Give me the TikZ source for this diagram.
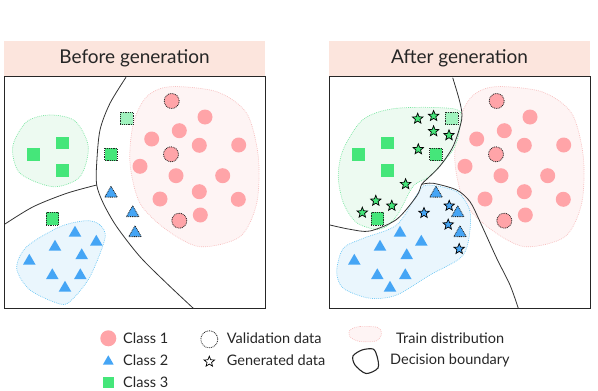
\documentclass[tikz,border=0pt]{standalone}
\usepackage{fontspec}
\setmainfont{Lato}
\usetikzlibrary{shapes.geometric}

\definecolor{titlebg}{RGB}{252,229,221}
\definecolor{classred}{RGB}{255,164,168}
\definecolor{classgreen}{RGB}{69,230,122}
\definecolor{lightgreen}{RGB}{160,242,190}
\definecolor{classblue}{RGB}{69,165,245}
\definecolor{greenfill}{RGB}{237,250,241}
\definecolor{greenline}{RGB}{120,230,160}
\definecolor{bluefill}{RGB}{234,246,253}
\definecolor{blueline}{RGB}{110,200,245}
\definecolor{redfill}{RGB}{254,244,244}
\definecolor{redline}{RGB}{248,190,190}

\begin{document}
\begin{tikzpicture}[x=1pt,y=-1pt,
  pt/.style={inner sep=0pt,outer sep=0pt},
  cls1/.style={pt,circle,fill=classred,minimum size=15pt},
  cls2/.style={pt,regular polygon,regular polygon sides=3,fill=classblue,minimum size=14.5pt},
  cls3/.style={pt,rectangle,fill=classgreen,minimum size=12.5pt},
  val/.style={draw=black!85,line width=0.8pt,dash pattern=on 0.9pt off 0.9pt},
  gen/.style={pt,star,star points=5,star point ratio=2.3,minimum size=11pt,draw=black,line width=0.7pt},
  blob/.style={line width=0.7pt,dash pattern=on 0.8pt off 1.1pt},
  bound/.style={draw=black!80,line width=0.8pt},
  lab/.style={anchor=west,font=\fontsize{14.5}{16}\selectfont,text=black!85,inner sep=0pt}]
  \useasboundingbox (0,0) rectangle (598,391);
  % title bars and frames of both panels
  \foreach \px/\ttl/\nm in {0/Before generation/bef,325/After generation/aft}{
    \begin{scope}[xshift=\px pt]
      \fill[titlebg] (4,41) rectangle (265,76);
      \node[font=\fontsize{19}{22}\selectfont,text=black!85] (ttl\nm) at (134.5,58.5) {\ttl};
      \draw[black!85,line width=1pt] (4,76) rectangle (265,308.5);
      % train distribution of class 1 is the same in both panels
      \filldraw[fill=redfill,draw=redline,blob] plot[smooth cycle] coordinates
        {(170,86.7) (216.7,91.7) (246.7,113.3) (258.3,156.7) (256.7,203.3) (240,236.7)
         (200,246.7) (166.7,230) (140,203.3) (130,163.3) (133.3,123.3) (146.7,96.7)};
    \end{scope}
  }
  % before: train distributions of class 2 and 3
  \filldraw[fill=greenfill,draw=greenline,blob] plot[smooth cycle] coordinates
    {(50,115) (75,121) (88.3,146.7) (80,176.7) (53.3,186.7) (20,173.3) (12.7,146.7) (26.7,121.7)};
  \filldraw[fill=bluefill,draw=blueline,blob] plot[smooth cycle] coordinates
    {(86.7,220.7) (100,225) (105,238.3) (90,276.7) (71.7,300) (60,304) (30,290)
     (16.7,268.3) (26.7,246.7) (60,226.7)};
  % after: the generated data widen both
  \begin{scope}[xshift=325pt]
    \filldraw[fill=greenfill,draw=greenline,blob] plot[smooth cycle] coordinates
      {(38.3,119.3) (71.7,108.3) (131,109.3) (135,126) (128.3,149.3) (105,176) (88.3,186)
       (71.7,216) (55,229.3) (31.7,222.7) (18.3,202.7) (13.3,176) (18.3,149.3)};
    \filldraw[fill=bluefill,draw=blueline,blob] plot[smooth cycle] coordinates
      {(101.7,185) (131.7,191.7) (145,211.7) (143.3,241.7) (135,258.3) (105,275) (71.7,295)
       (45,298.3) (18.3,288.3) (11.7,271.7) (18.3,248.3) (38.3,238.3) (71.7,225) (91.7,195)};
  \end{scope}
  % decision boundaries
  \draw[bound] plot[smooth] coordinates {(126,77.3) (110,103.3) (100,130) (96.7,163.3) (96.7,185)
    (103.3,203.3) (116.7,226.7) (140,256.7) (166.7,283.3) (193.3,308.3)};
  \draw[bound] plot[smooth] coordinates {(96.7,185) (66.7,193.3) (33.3,206.7) (5,224)};
  \begin{scope}[xshift=325pt]
    \draw[bound] plot[smooth] coordinates {(127.7,77.7) (135,102.7) (136.7,119.3) (128.3,146)
      (115,166) (101.7,179.3) (96.7,184.3) (91.7,196) (71.7,219.3) (45,231) (25,229.3) (5,225)};
    \draw[bound] plot[smooth] coordinates {(96.7,184.3) (108.3,183.3) (131.7,190) (145,201.7)
      (155,221.7) (171.7,258.3) (185,285) (193.3,308.3)};
  \end{scope}
  % data points, identical in both panels
  \foreach \px/\nm in {0/bef,325/aft}{
    \begin{scope}[xshift=\px pt]
      \foreach \x/\y [count=\i] in {205/117,179.3/130.7,151.7/139,199.3/145.3,238.7/145,140/166.3,
          176/175.7,222.7/175.7,199.3/191.7,160/199,238.3/199.3,200.3/215}
        \node[cls1] (r\nm\i) at (\x,\y) {};
      \foreach \x/\y [count=\i] in {171.7/101,171/154.3,179.3/220.7}
        \node[cls1,val] (rv\nm\i) at (\x,\y) {};
      \foreach \x/\y [count=\i] in {62.3/143,33.3/154.7,62.3/170.3}
        \node[cls3] (g\nm\i) at (\x,\y) {};
      \node[cls3,val,fill=lightgreen] (gv\nm1) at (126.7,118.3) {};
      \node[cls3,val] (gv\nm2) at (111,154.3) {};
      \node[cls3,val] (gv\nm3) at (52.3,218.7) {};
      \foreach \x/\y [count=\i] in {75/233,96.3/242,55/247,81.7/255.5,29.3/261,52.3/275.5,80.3/275.5,65/288}
        \node[cls2] (b\nm\i) at (\x,\y) {};
      \foreach \x/\y [count=\i] in {111/193.5,132.7/213,135/233}
        \node[cls2,val] (bv\nm\i) at (\x,\y) {};
    \end{scope}
  }
  % generated data
  \begin{scope}[xshift=325pt]
    \foreach \x/\y [count=\i] in {92.7/118.7,108.6/116,108.6/131.3,124/135.3,93.3/149.3,
        80.6/184.2,50.8/200.8,66.8/205.8,37.3/212.7}
      \node[gen,fill=classgreen] (sg\i) at (\x,\y) {};
    \foreach \x/\y [count=\i] in {124.2/205.8,99/213,123.2/224.6,134.2/249}
      \node[gen,fill=classblue] (sb\i) at (\x,\y) {};
  \end{scope}
  % legend
  \node[cls1,minimum size=16pt] (k1) at (108.3,338.3) {};
  \node[lab] (k1t) at (123,338.5) {Class 1};
  \node[cls2,minimum size=12.5pt] (k2) at (108.3,361.5) {};
  \node[lab] (k2t) at (123,360.5) {Class 2};
  \node[cls3,minimum size=11pt] (k3) at (108.3,382.3) {};
  \node[lab] (k3t) at (123,382.3) {Class 3};
  \node[pt,circle,val,minimum size=17pt] (k4) at (209.3,339.3) {};
  \node[lab] (k4t) at (226.7,338.5) {Validation data};
  \node[gen,fill=white,minimum size=11pt] (k5) at (209.3,361.7) {};
  \node[lab] (k5t) at (226.7,360.5) {Generated data};
  \filldraw[fill=redfill,draw=redline,blob] plot[smooth cycle] coordinates
    {(350,330) (360,326.5) (378,327.5) (381.5,334) (376,341) (360,341.5) (350,337)};
  \node[lab] (k6t) at (396,338.5) {Train distribution};
  \draw[draw=black!85,line width=1.1pt] plot[smooth cycle] coordinates
    {(353,356) (362,350) (373,349) (377,356) (378,368) (366,373.5) (355,365)};
  \node[lab] (k7t) at (390,360.5) {Decision boundary};
\end{tikzpicture}
\end{document}
